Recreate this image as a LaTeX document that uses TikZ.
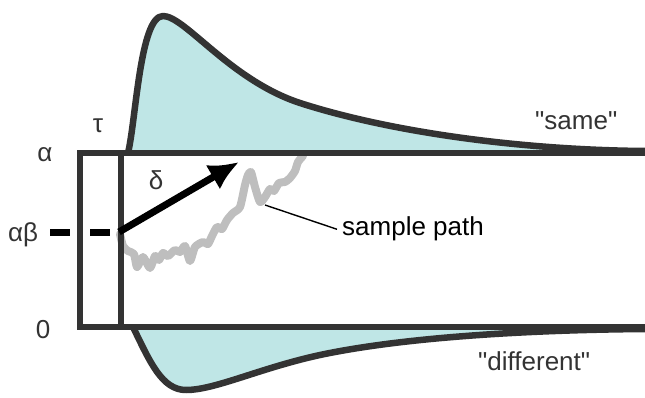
\documentclass[tikz,border=0pt]{standalone}
\usepackage{fontspec}
\setmainfont{Liberation Sans}[Ligatures=TeXOff]
\usetikzlibrary{arrows.meta,positioning}
\definecolor{frame}{RGB}{51,51,51}
\definecolor{dist}{RGB}{191,230,230}
\definecolor{pathgray}{RGB}{190,190,190}

\begin{document}
\begin{tikzpicture}[x=1pt,y=-1pt,>=Latex,
  bound/.style={line width=6.5pt,draw=frame,line join=miter},
  curve/.style={line width=6.5pt,draw=frame,line join=round},
  lab/.style={text=frame,inner sep=0pt,font=\fontsize{26}{30}\selectfont}]
\useasboundingbox (0,0) rectangle (645,398);
% the two densities
\fill[dist] (128,153) .. controls (136,120) and (140,16) .. (163,16) .. controls (185,16) and (230,80) .. (300,103) .. controls (390,132) and (520,150) .. (645,151) -- (645,153) -- cycle;
\fill[dist] (133,327) .. controls (150,362) and (162,390) .. (186,390) .. controls (215,390) and (260,368) .. (320,355) .. controls (400,338) and (520,330) .. (645,329) -- (645,327) -- cycle;
\draw[curve] (128,153) .. controls (136,120) and (140,16) .. (163,16) .. controls (185,16) and (230,80) .. (300,103) .. controls (390,132) and (520,150) .. (645,151);
\draw[curve] (133,327) .. controls (150,362) and (162,390) .. (186,390) .. controls (215,390) and (260,368) .. (320,355) .. controls (400,338) and (520,330) .. (645,329);
% sample path
\draw[pathgray,line width=8pt,line join=round,line cap=round] plot[smooth,tension=0.4] coordinates {(120,234) (123,246) (128,251) (134,254) (137,267) (143,257) (150,268) (155,256) (159,260) (163,253) (168,256) (175,250) (180,252) (185,246) (190,261) (195,247) (203,242) (208,244) (212,236) (217,227) (222,229) (227,220) (233,213) (240,207) (245,185) (248,175) (251,172) (255,187) (260,202) (265,197) (270,189) (274,191) (279,183) (285,182) (290,178) (295,171) (298,162) (303,156)};
\coordinate (sp) at (265,205);
% boundaries and non-decision time
\draw[bound] (645,153) -- (80,153) -- (80,327) -- (645,327);
\draw[bound] (121,153) -- (121,327);
\draw[line width=7pt,dash pattern=on 20pt off 20pt] (50,232) -- (110,232);
% drift
\coordinate (a0) at (119,232); \coordinate (a1) at (239,162);
\draw[line width=7pt,-{Latex[length=30pt,width=28pt]}] (a0) -- (a1);
% labels
\node[lab,anchor=base] (alpha) at (45,162) {α};
\node[lab,anchor=base] (start) at (23,241) {αβ};
\node[lab,anchor=base] (zero) at (43,338) {0};
\node[lab,anchor=base] (tau) at (98,133) {τ};
\node[lab,anchor=base] (delta) at (156,190) {δ};
\node[lab,anchor=base west] (same) at (535,130) {"same"};
\node[lab,anchor=base west] (diff) at (478,370) {"different"};
\node[lab,text=black,anchor=base west] (spl) at (342,236) {sample path};
\draw[line width=1.4pt] (sp) -- ([xshift=-5pt]spl.west);
\end{tikzpicture}
\end{document}
